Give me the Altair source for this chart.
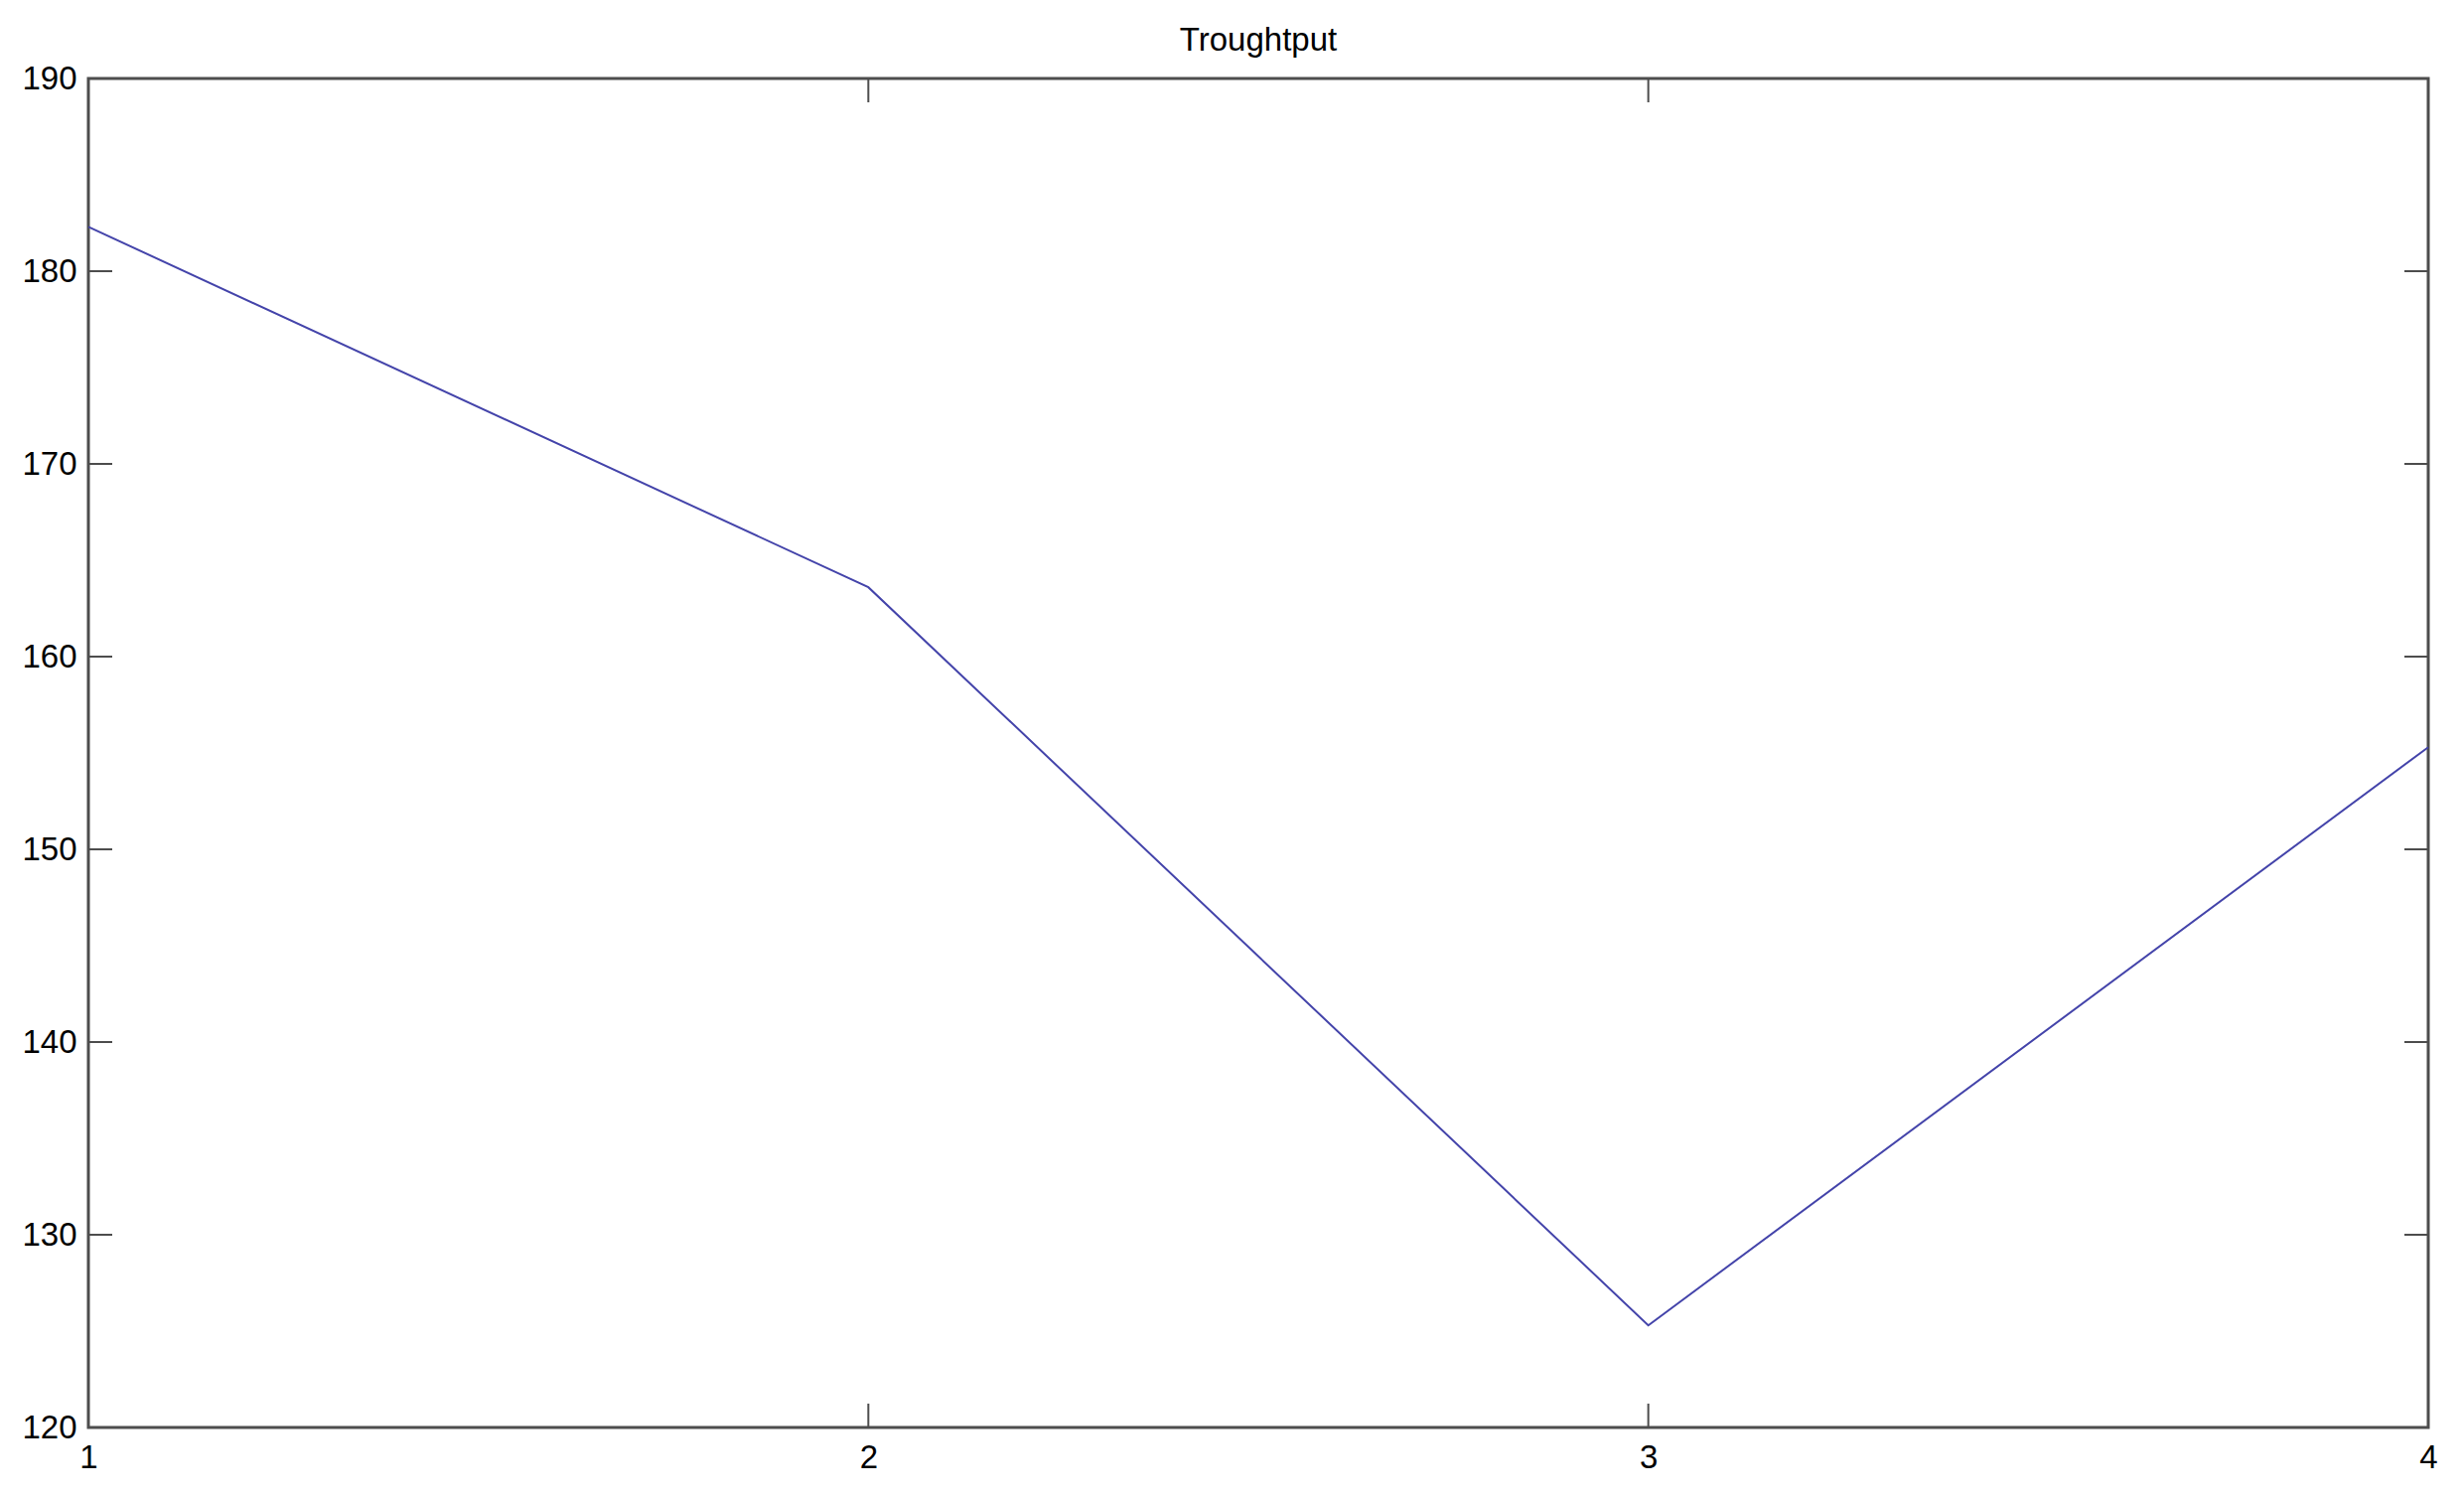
import altair as alt
import pandas as pd

# Data
x_values = [1, 2, 3, 4]
throughput = [182.3, 163.6, 125.3, 155.3]
x_ticks = [1, 2, 3, 4]
y_ticks = [120, 130, 140, 150, 160, 170, 180, 190]
title_text = "Troughtput"

W, H = 2356, 1358
TICK = 24
FONT = "Liberation Sans"
FRAME = "#4d4d4d"

df = pd.DataFrame({"x": x_values, "y": throughput})
xt = pd.DataFrame({"x": x_ticks})
yt = pd.DataFrame({"y": y_ticks})

xscale = alt.Scale(domain=[1, 4], nice=False, zero=False)
yscale = alt.Scale(domain=[120, 190], nice=False, zero=False)

line = alt.Chart(df).mark_line(color="#4444aa", strokeWidth=2).encode(
    x=alt.X("x:Q", scale=xscale, title=None,
            axis=alt.Axis(values=x_ticks, format="d", tickSize=0, domain=False,
                          grid=False, labelFlush=False, labelPadding=14,
                          labelFont=FONT, labelFontSize=33, labelColor="black")),
    y=alt.Y("y:Q", scale=yscale, title=None,
            axis=alt.Axis(values=y_ticks, format="d", tickSize=0, domain=False,
                          grid=False, labelFlush=False, labelPadding=12,
                          labelFont=FONT, labelFontSize=33, labelColor="black")),
)

left_ticks = alt.Chart(yt).mark_rule(color=FRAME, strokeWidth=2).encode(
    y=alt.Y("y:Q", scale=yscale), x=alt.value(0), x2=alt.value(TICK))
right_ticks = alt.Chart(yt).mark_rule(color=FRAME, strokeWidth=2).encode(
    y=alt.Y("y:Q", scale=yscale), x=alt.value(W - TICK), x2=alt.value(W))
bottom_ticks = alt.Chart(xt).mark_rule(color=FRAME, strokeWidth=2).encode(
    x=alt.X("x:Q", scale=xscale), y=alt.value(H - TICK), y2=alt.value(H))
top_ticks = alt.Chart(xt).mark_rule(color=FRAME, strokeWidth=2).encode(
    x=alt.X("x:Q", scale=xscale), y=alt.value(0), y2=alt.value(TICK))

chart = alt.layer(line, left_ticks, right_ticks, bottom_ticks, top_ticks).properties(
    width=W, height=H,
    background="white",
    title=alt.TitleParams(title_text, font=FONT, fontSize=33, fontWeight="normal",
                          color="black", anchor="middle", offset=5),
    autosize=alt.AutoSizeParams(type="none"),
    padding={"left": 81, "top": 71, "right": 24, "bottom": 60},
).configure_view(stroke=FRAME, strokeWidth=3)

chart.save("out.html", embed_options={"renderer": "svg", "actions": False})
